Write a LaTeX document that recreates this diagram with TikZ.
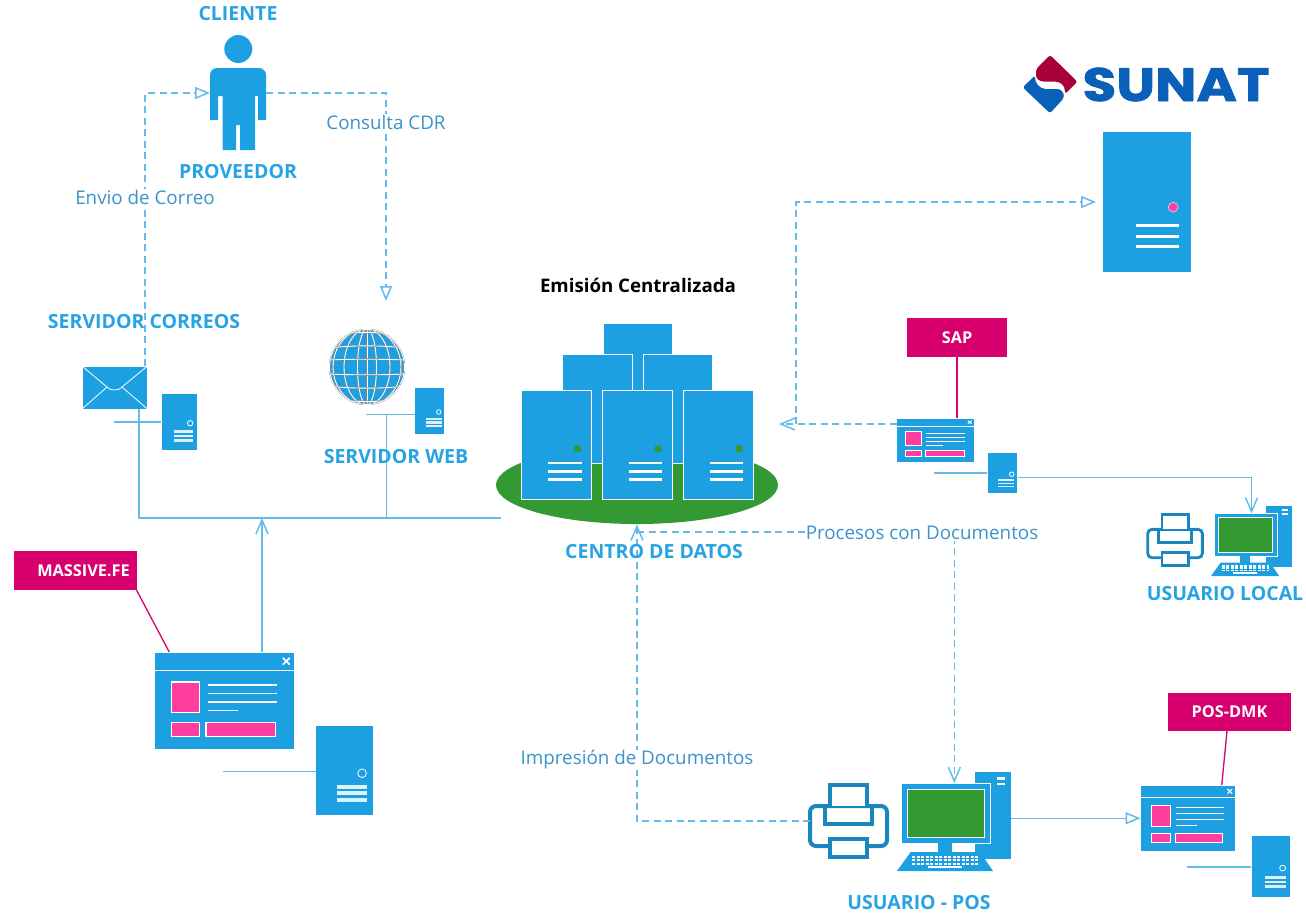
\documentclass[tikz,border=0pt]{standalone}
\usepackage{fontspec}
\setmainfont{Open Sans}
\newfontfamily\logofont{Poppins}[BoldFeatures={FakeBold=1.3}]
\usetikzlibrary{arrows.meta}
\definecolor{iconblue}{HTML}{1CA0E2}
\definecolor{titleblue}{HTML}{27A3E3}
\definecolor{thinblue}{HTML}{3A94CB}
\definecolor{wireblue}{HTML}{62BBEA}
\definecolor{tagred}{HTML}{D8006E}
\definecolor{pinkfill}{HTML}{FF3FA0}
\definecolor{dcgreen}{HTML}{339933}
\definecolor{prnblue}{HTML}{1A85BE}
\definecolor{logoblue}{HTML}{0A5FB8}
\definecolor{logored}{HTML}{A80038}
\tikzset{
  iconbox/.style={fill=iconblue,draw=white,line width=.7pt,inner sep=0pt,outer sep=0pt},
  titlelbl/.style={text=titleblue,font=\bfseries\fontsize{19.5}{22}\selectfont,inner sep=1pt},
  thinlbl/.style={text=thinblue,font=\fontsize{18.8}{22}\selectfont,fill=white,inner sep=1pt},
  tagbox/.style={fill=tagred,text=white,font=\bfseries\fontsize{16.3}{19}\selectfont,inner sep=0pt,outer sep=0pt},
  wire/.style={draw=wireblue,line width=1.5pt},
  dashwire/.style={wire,dash pattern=on 7pt off 4.5pt},
  pinkwire/.style={draw=tagred,line width=1.3pt},
  opentip/.style={-{Triangle[fill=white,length=15pt,width=12pt]}},
  vtip/.style={-{Straight Barb[length=14pt,width=12pt]}},
}
\newcommand{\boxnode}[6]{%
  \pgfmathsetmacro\icw{#5-#3}\pgfmathsetmacro\ich{#6-#4}%
  \node[#1,minimum width=\icw pt,minimum height=\ich pt] (#2) at ({(#3+#5)/2},{(#4+#6)/2}) {};}
\newcommand{\srvbig}[6]{%
  \boxnode{iconbox}{#1}{#2}{#3}{#4}{#5}%
  \pgfmathsetmacro\icl{\icw*.038}\pgfmathsetmacro\icr{\icw*.055}%
  \begin{scope}[shift={(#2,#3)},x=\icw pt,y=-\ich pt]
    \fill[#6] (.8,.54) circle[radius=\icr pt];
    \foreach \yy in {.67,.75,.82} \draw[white,line width=\icl pt] (.38,\yy) -- (.86,\yy);
  \end{scope}}
\newcommand{\srvsmall}[5]{%
  \boxnode{iconbox}{#1}{#2}{#3}{#4}{#5}%
  \pgfmathsetmacro\icl{\ich*.045}\pgfmathsetmacro\icr{\icw*.075}%
  \begin{scope}[shift={(#2,#3)},x=\icw pt,y=-\ich pt]
    \draw[white,line width=.8pt] (.81,.53) circle[radius=\icr pt];
    \foreach \yy in {.68,.755,.83} \draw[white!85!iconblue,line width=\icl pt] (.37,\yy) -- (.9,\yy);
  \end{scope}}
\newcommand{\winicon}[5]{%
  \boxnode{iconbox}{#1}{#2}{#3}{#4}{#5}%
  \pgfmathsetmacro\icl{\icw*.012}\pgfmathsetmacro\icr{\icw*.009}%
  \begin{scope}[shift={(#2,#3)},x=\icw pt,y=-\ich pt]
    \draw[white,line width=\icl pt] (0,.19) -- (1,.19);
    \draw[white,line width=\icl pt] (.92,.06) -- (.97,.13) (.92,.13) -- (.97,.06);
    \fill[pinkfill,draw=white,line width=\icr pt] (.12,.31) rectangle (.32,.62);
    \fill[pinkfill,draw=white,line width=\icr pt] (.12,.725) rectangle (.32,.87);
    \fill[pinkfill,draw=white,line width=\icr pt] (.37,.725) rectangle (.87,.87);
    \foreach \yy in {.34,.425,.515} \draw[white,line width=\icr pt] (.38,\yy) -- (.88,\yy);
    \draw[white,line width=\icr pt] (.38,.605) -- (.6,.605);
  \end{scope}}
\newcommand{\pcicon}[4]{%
  \begin{scope}[shift={(#2,#3)},scale=#4]
    \node[iconbox,minimum width=#4*37pt,minimum height=#4*88pt] (#1t) at (95.5,44) {};
    \draw[white,line width=#4*2.4pt] (99.7,7.5) -- (108,7.5) (99.7,13) -- (108,13);
    \node[iconbox,minimum width=#4*89pt,minimum height=#4*60pt] (#1) at (49.3,42) {};
    \fill[dcgreen,draw=white,line width=.7pt] (10,18) rectangle (87,66);
    \fill[iconblue] (41,72) rectangle (55,81);
    \fill[iconblue] (0,100) -- (96,100) -- (83,81) -- (13.7,81) -- cycle;
    \foreach \yy in {85.7,89,92.5} \draw[white,line width=#4*2pt,dash pattern=on 3pt off 1.5pt] (15,\yy) -- (81,\yy);
    \draw[white,line width=#4*2pt] (31,95.7) -- (64.7,95.7);
  \end{scope}}
\newcommand{\prnicon}[4]{%
  \begin{scope}[shift={(#2,#3)},scale=#4]
    \node[fill=white,draw=prnblue,line width=#4*4pt,rounded corners=#4*6pt,inner sep=0pt,outer sep=0pt,minimum width=#4*77pt,minimum height=#4*40pt] (#1) at (39.5,43) {};
    \draw[prnblue,fill=white,line width=#4*4pt] (21,23) -- (21,2) -- (58,2) -- (58,23);
    \draw[prnblue,line width=#4*4pt] (16,23) -- (16,41) -- (63,41) -- (63,23);
    \draw[prnblue,fill=white,line width=#4*4pt] (21,56) rectangle (58,74);
  \end{scope}}
\begin{document}
\begin{tikzpicture}[x=1pt,y=-1pt]
\useasboundingbox (0,0) rectangle (1306,914);
\fill[dcgreen] (637,485) ellipse[x radius=141,y radius=39];
\boxnode{iconbox}{dctop}{603}{323}{672}{400}
\boxnode{iconbox}{dcbackl}{562}{354}{632}{463}
\boxnode{iconbox}{dcbackr}{643}{354}{712}{463}
\srvbig{dcleft}{521.5}{390}{591.5}{499}{dcgreen}
\srvbig{dcmid}{602}{390}{672}{499}{dcgreen}
\srvbig{dcright}{683}{390}{753}{499}{dcgreen}
\node[inner sep=0pt,outer sep=0pt,minimum width=282pt,minimum height=78pt] (dcbase) at (637,485) {};
\srvbig{srvsunat}{1102}{131}{1191}{272}{pinkfill,draw=white}
\node[inner sep=0pt,outer sep=0pt,minimum width=56pt,minimum height=115pt] (persona) at (238,93) {};
\fill[iconblue] (238.3,49) circle[radius=14];
\fill[iconblue] (210,120) [rounded corners=7pt] -- (210,68) -- (266,68) [sharp corners] -- (266,120) -- (258,120) -- (258,96) -- (255,96) -- (255,150) -- (240,150) -- (240,125) -- (236,125) -- (236,150) -- (222.7,150) -- (222.7,96) -- (218,96) -- (218,120) -- cycle;
\boxnode{iconbox}{correo}{82}{366}{147.5}{409}
\draw[white,line width=.8pt] (82,366) -- (107,387) .. controls (110,391) and (119,391) .. (122,387) -- (147.5,366);
\draw[white,line width=.8pt] (82,409) -- (107,387) (147.5,409) -- (122,387);
\srvsmall{srvcorreo}{161}{393}{197}{450}
\node[circle,fill=iconblue,minimum size=76pt,inner sep=0pt,outer sep=0pt] (globo) at (367,367) {};
\begin{scope}
\clip (367,367) circle[radius=38];
\tikzset{globeline/.style={draw=gray,double=white,double distance=.9pt,line width=.3pt}}
\foreach \k in {9.5,23,34} \draw[globeline] (367,367) ellipse[x radius=\k,y radius=38];
\draw[globeline] (367,329) -- (367,405);
\foreach \o in {-31,-19,-7,7,19,31} \draw[globeline] (329,367+\o) .. controls (350,{367+1.15*\o}) and (384,{367+1.15*\o}) .. (405,367+\o);
\draw[globeline] (367,367) circle[radius=37.5];
\end{scope}
\srvsmall{srvweb}{414.5}{387}{444.5}{434}
\winicon{winsap}{896.5}{418}{974}{462.5}
\srvsmall{srvsap}{987}{452.5}{1017.5}{493.5}
\winicon{winfe}{154.5}{652}{294}{749}
\srvsmall{srvfe}{315.5}{725.5}{373}{815.5}
\winicon{winpos}{1140.5}{785}{1235}{851.5}
\srvsmall{srvpos}{1251}{835.5}{1290}{897}
\pcicon{pcpos}{897}{771}{1}
\pcicon{pclocal}{1211}{505}{.71}
\prnicon{prnpos}{809}{783}{1}
\prnicon{prnlocal}{1147}{513}{.71}
\node[tagbox,minimum width=100pt,minimum height=39pt] (tagsap) at (957,337.5) {SAP};
\node[tagbox,minimum width=123pt,minimum height=39pt] (tagfe) at (75,570.5) {\hspace*{17pt}MASSIVE.FE};
\node[tagbox,minimum width=123pt,minimum height=38pt] (tagpos) at (1229.5,712) {POS-DMK};
\coordinate (srvcorreoend) at (114,422);
\coordinate (srvwebend) at (366,414.5);
\coordinate (srvsapend) at (934,473);
\coordinate (srvfeend) at (222.5,771.5);
\coordinate (srvposend) at (1187,867);
\coordinate (busend) at (501,518);
\coordinate (busjoin) at (139,518);
\coordinate (webjoin) at (386.5,518);
\coordinate (busarrow) at (262,518);
\coordinate (dchead) at (779,424);
\coordinate (dcfoot) at (637,524.5);
\draw[wire] (srvcorreoend) -- (srvcorreoend -| srvcorreo.west);
\draw[wire] (srvwebend) -- (srvwebend -| srvweb.west);
\draw[wire] (srvsapend) -- (srvsapend -| srvsap.west);
\draw[wire] (srvfeend) -- (srvfeend -| srvfe.west);
\draw[wire] (srvposend) -- (srvposend -| srvpos.west);
\draw[wire] (correo.south -| busjoin) -- (busjoin) -- (busend);
\draw[wire] (srvwebend -| webjoin) -- (webjoin);
\draw[wire,vtip] (winfe.north -| busarrow) -- (busarrow);
\draw[wire,vtip] ([yshift=-4.7pt]srvsap.east) -| ([xshift=5.5pt]pclocal.north);
\draw[wire,opentip] (pcpost.east |- winpos.west) -- (winpos.west);
\draw[pinkwire] (tagsap.south) -- (tagsap.south |- winsap.north);
\draw[pinkwire] (tagfe.south east) -- ([xshift=-55pt]winfe.north);
\draw[pinkwire] ([xshift=-2.5pt]tagpos.south) -- ([xshift=34pt]winpos.north);
\draw[dashwire,opentip] ([xshift=-2.5pt]correo.north east) |- (persona.west);
\draw[dashwire,opentip] (persona.east) -| (386,301);
\draw[dashwire,opentip] (796,424) |- ([xshift=-6pt,yshift=-.5pt]srvsunat.west);
\draw[dashwire,vtip] (winsap.west |- dchead) -- (dchead);
\draw[dashwire,vtip] ([yshift=5pt]prnpos.west) -| (dcfoot);
\draw[dashwire,vtip] (637,532) -| ([xshift=8pt]pcpos.north);
\fill[logored,rounded corners=2.5pt] (1050,55) -- (1077.5,81.7) -- (1065,94) .. controls (1065,85) and (1060,81.5) .. (1052,81.5) -- (1046,81.5) .. controls (1039,81.5) and (1036,78) .. (1036,73) -- (1036.5,68.5) -- cycle;
\fill[logoblue,rounded corners=2.5pt] (1022.7,87.3) -- (1035,75.5) .. controls (1035,83) and (1040,89) .. (1048,89) -- (1055,89) .. controls (1062,89) and (1064,94) .. (1063.5,98.5) -- (1050,113.3) -- cycle;
\node[inner sep=0pt,text=logoblue,font=\logofont\bfseries\fontsize{47}{50}\selectfont,xscale=1.17,transform shape] (sunat) at (1176,84.5) {SUNAT};
\node[titlelbl] (lblcliente) at (238,14) {CLIENTE};
\node[titlelbl] (lblproveedor) at (238,172) {PROVEEDOR};
\node[titlelbl] (lblcorreos) at (144,322) {SERVIDOR CORREOS};
\node[titlelbl] (lblweb) at (396,457) {SERVIDOR WEB};
\node[titlelbl] (lbldatos) at (654,552) {CENTRO DE DATOS};
\node[titlelbl] (lbllocal) at (1225,594) {USUARIO LOCAL};
\node[titlelbl] (lblpos) at (919,903) {USUARIO - POS};
\node[inner sep=1pt,font=\bfseries\fontsize{18.7}{22}\selectfont] (lblemision) at (638,285) {Emisión Centralizada};
\node[thinlbl] (lblcdr) at (386,122) {Consulta CDR};
\node[thinlbl] (lblenvio) at (145,197) {Envio de Correo};
\node[thinlbl] (lblprocesos) at (922,533) {Procesos con Documentos};
\node[thinlbl] (lblimpresion) at (637,760) {Impresión de Documentos};
\end{tikzpicture}
\end{document}
